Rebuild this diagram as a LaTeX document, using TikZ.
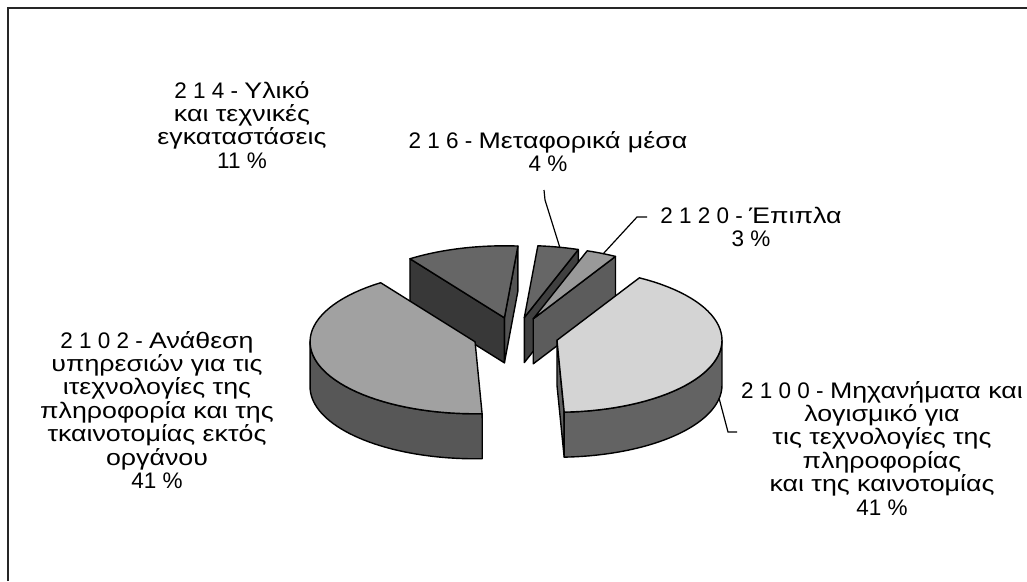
\documentclass[tikz,border=0pt]{standalone}
\usepackage{fontspec}
\setmainfont{Liberation Sans}
\newfontfamily\gr{Liberation Sans}[FakeStretch=1.19]
\newcommand\sliceapex[3]{%
  \pgfmathsetmacro\mang{((#2)+(#3))/2}%
  \coordinate (#1) at ({\cx+\dd*cos(\mang)},{\cy-\dd*\ry/\rx*sin(\mang)});}
\newcommand\cutface[3]{%
  \path[edge,fill=#3] (#1) -- ++({\rx*cos(#2)},{-\ry*sin(#2)}) -- ++(0,\hh)
    -- ++({-\rx*cos(#2)},{\ry*sin(#2)}) -- cycle;}
\newcommand\outerside[4]{%
  \begin{scope}[shift={(#1)}]
  \path[edge,fill=#4] plot[domain=0:1,samples=40] ({\rx*cos((#2)+((#3)-(#2))*\x)},{-\ry*sin((#2)+((#3)-(#2))*\x)})
    -- plot[domain=0:1,samples=40] ({\rx*cos((#3)+((#2)-(#3))*\x)},{\hh-\ry*sin((#3)+((#2)-(#3))*\x)}) -- cycle;
  \end{scope}}
\newcommand\slicetop[4]{%
  \begin{scope}[shift={(#1)}]
  \path[edge,fill=#4] (0,0) -- plot[domain=0:1,samples=50] ({\rx*cos((#2)+((#3)-(#2))*\x)},{-\ry*sin((#2)+((#3)-(#2))*\x)}) -- cycle;
  \end{scope}}
\begin{document}
\begin{tikzpicture}[x=1pt,y=-1pt,
  edge/.style={draw=black,line width=1.4pt,line join=round},
  lbl/.style={font=\fontsize{22.5}{23.4}\selectfont,align=center,inner sep=0pt,anchor=base},
  leader/.style={draw=black,line width=1.2pt}]
\fill[white] (0,0) rectangle (1027,581);
\useasboundingbox (0,0) rectangle (1027,581);
\draw[line width=2pt,draw=black!85] (8,581) -- (8,8) -- (1027,8);
\def\cx{515.5}\def\cy{335.8}\def\dd{42.7}\def\rx{165}\def\ry{72}\def\hh{45}
% apexes
\sliceapex{a2100}{-87.5}{60.1}
\sliceapex{a2120}{60.1}{70.9}
\sliceapex{a216}{70.9}{85.3}
\sliceapex{a214}{85.3}{124.9}
\sliceapex{a2102}{124.9}{272.5}
% 214
\cutface{a214}{85.3}{black!67}
\cutface{a214}{124.9}{black!78}
\slicetop{a214}{85.3}{124.9}{black!60}
% 216
\cutface{a216}{70.9}{black!75}
\slicetop{a216}{70.9}{85.3}{black!60}
% 2120
\cutface{a2120}{60.1}{black!64}
\slicetop{a2120}{60.1}{70.9}{black!40}
% 2102
\outerside{a2102}{180}{272.5}{black!66}
\slicetop{a2102}{124.9}{272.5}{black!37}
% 2100
\cutface{a2100}{-87.5}{black!62}
\outerside{a2100}{-87.5}{0}{black!61}
\slicetop{a2100}{-87.5}{60.1}{black!17}
% labels (anchor = baseline of last line)
\node[lbl] (l214) at (242,168.2) {2 1 4 - {\gr Υλικό}\\{\gr και τεχνικές}\\{\gr εγκαταστάσεις}\\11 \%};
\node[lbl] (l216) at (548,171.4) {2 1 6 - {\gr Μεταφορικά μέσα}\\4 \%};
\node[lbl] (l2120) at (751,246.4) {2 1 2 0 - {\gr Έπιπλα}\\3 \%};
\node[lbl] (l2100) at (882,515) {2 1 0 0 - {\gr Μηχανήματα και}\\{\gr λογισμικό για}\\{\gr τις τεχνολογίες της}\\{\gr πληροφορίας}\\{\gr και της καινοτομίας}\\41 \%};
\node[lbl] (l2102) at (157,488.4) {2 1 0 2 - {\gr Ανάθεση}\\{\gr υπηρεσιών για τις}\\{\gr ιτεχνολογίες της}\\{\gr πληροφορία και της}\\{\gr τκαινοτομίας εκτός}\\{\gr οργάνου}\\41 \%};
% leaders
\coordinate (s216) at (544,190);
\coordinate (k216) at (545,200);
\coordinate (e216) at (560,248);
\coordinate (s2120) at (647,217);
\coordinate (k2120) at (637,217);
\coordinate (e2120) at (603,254);
\coordinate (s2100) at (737,432);
\coordinate (k2100) at (728,432);
\coordinate (e2100) at (719,398);
\draw[leader] (s216) -- (k216) -- (e216);
\draw[leader] (s2120) -- (k2120) -- (e2120);
\draw[leader] (s2100) -- (k2100) -- (e2100);
\end{tikzpicture}
\end{document}
